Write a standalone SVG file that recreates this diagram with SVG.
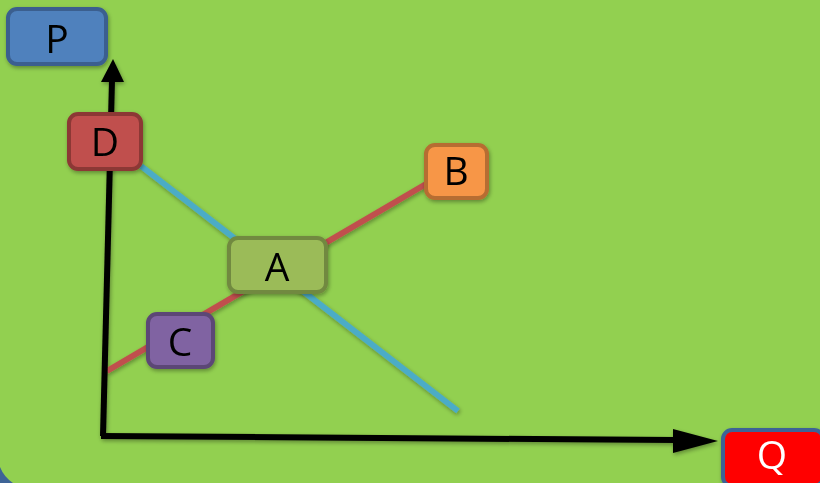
<svg xmlns="http://www.w3.org/2000/svg" width="820" height="483" viewBox="0 0 820 483">
<defs>
<style>
.lbl{font-family:"Open Sans","Liberation Sans",sans-serif;font-size:39px;text-anchor:middle;fill:#000}
.box{stroke-width:4}
.ax{stroke:#000;stroke-width:6;fill:none}
</style>
<filter id="sh" x="-20%" y="-20%" width="140%" height="140%">
<feGaussianBlur in="SourceAlpha" stdDeviation="2"/>
<feOffset dx="1" dy="2"/>
<feComponentTransfer><feFuncA type="linear" slope="0.35"/></feComponentTransfer>
<feMerge><feMergeNode/><feMergeNode in="SourceGraphic"/></feMerge>
</filter>
</defs>
<rect x="0" y="0" width="820" height="483" fill="#92D050"/>
<path d="M0,467 Q4,477 13,483 L0,483 Z" fill="#3E6496"/>
<g id="connectors" filter="url(#sh)">
<line x1="141" y1="166" x2="458" y2="411" stroke="#4BACC6" stroke-width="6"/>
<line x1="107" y1="371" x2="426" y2="184" stroke="#C0504D" stroke-width="6"/>
<path class="ax" d="M103,436 L112,80"/>
<path d="M113,59 L101,82 L124,82 Z" fill="#000"/>
<path class="ax" d="M101,436 L676,440"/>
<path d="M718,441 L673,429 L673,453 Z" fill="#000"/>
</g>
<g id="P" filter="url(#sh)">
<rect class="box" x="8" y="9" width="98" height="55" rx="9" fill="#4F81BD" stroke="#3A5F8F"/>
<text class="lbl" x="57" y="53">P</text>
</g>
<g id="D" filter="url(#sh)">
<rect class="box" x="69" y="114" width="72" height="55" rx="9" fill="#C0504D" stroke="#8C3836"/>
<text class="lbl" x="105" y="156">D</text>
</g>
<g id="B" filter="url(#sh)">
<rect class="box" x="426" y="145" width="61" height="53" rx="9" fill="#F79646" stroke="#B66D31"/>
<text class="lbl" x="456" y="185">B</text>
</g>
<g id="A" filter="url(#sh)">
<rect class="box" x="229" y="238" width="97" height="54" rx="9" fill="#9BBB59" stroke="#71893F"/>
<text class="lbl" x="277" y="281">A</text>
</g>
<g id="C" filter="url(#sh)">
<rect class="box" x="148" y="314" width="65" height="53" rx="9" fill="#8064A2" stroke="#5C4776"/>
<text class="lbl" x="180" y="356">C</text>
</g>
<g id="Q" filter="url(#sh)">
<rect class="box" x="723" y="430" width="100" height="56" rx="9" fill="#FF0000" stroke="#3E6496"/>
<text class="lbl" x="772" y="469" style="fill:#fff">Q</text>
</g>
</svg>
